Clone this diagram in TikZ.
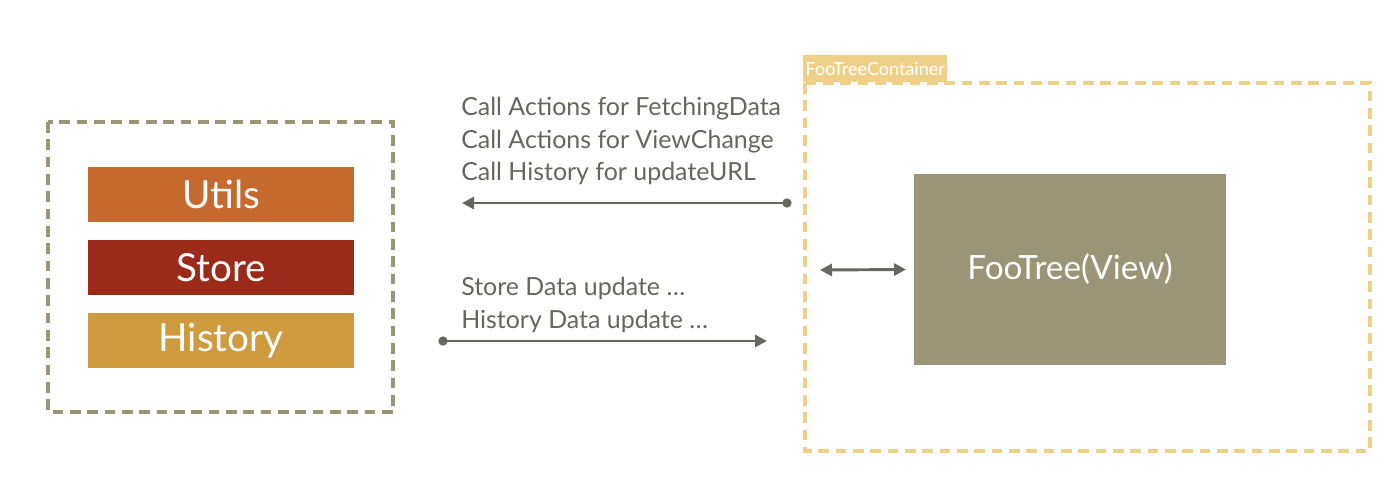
\documentclass[tikz,border=0pt]{standalone}
\usepackage{fontspec}
\setmainfont{Lato}
\usetikzlibrary{arrows.meta}
\definecolor{olivegray}{HTML}{9A9577}
\definecolor{utilsc}{HTML}{C5692E}
\definecolor{storec}{HTML}{9B2A1A}
\definecolor{historyc}{HTML}{D09A3F}
\definecolor{contc}{HTML}{EFD089}
\definecolor{txtc}{HTML}{66665C}
\definecolor{arrc}{HTML}{67665F}
\tikzset{
  bar/.style={draw=none, minimum width=266*0.75pt, minimum height=55*0.75pt, text=white, inner sep=0pt, font=\fontsize{29}{32}\selectfont},
  conn/.style={draw=arrc, line width=2.2pt, -{Triangle[length=9pt,width=9pt]}},
  dotstart/.style={circle, fill=arrc, inner sep=0pt, minimum size=7pt},
  lbl/.style={text=txtc, align=left, anchor=west, inner sep=0pt, font=\fontsize{18.7}{24.6}\selectfont}
}
\begin{document}
\begin{tikzpicture}[x=0.75pt, y=-0.75pt]
\useasboundingbox (0,0) rectangle (1400,483);
% left dashed container
\draw[olivegray, line width=3.2pt, dash pattern=on 8pt off 5pt] (48,122) rectangle (393,412);
\node[bar, fill=utilsc] (utils) at (221,194.5) {Utils};
\node[bar, fill=storec] (store) at (221,267.5) {Store};
\node[bar, fill=historyc] (history) at (221,340.5) {History};
% right container
\draw[contc, line width=3.2pt, dash pattern=on 8pt off 5pt] (805,83) rectangle (1370,451);
\node[fill=contc, text=white, minimum width=144*0.75pt, minimum height=27*0.75pt, inner sep=0pt, font=\fontsize{13.5}{14}\selectfont, anchor=north west] (ctab) at (803,55) {FooTreeContainer};
\node[fill=olivegray, text=white, minimum width=312*0.75pt, minimum height=191*0.75pt, inner sep=0pt, font=\fontsize{25}{28}\selectfont] (view) at (1070,269.5) {FooTree(View)};
% labels
\node[lbl] (toplbl) at (461,141) {Call Actions for FetchingData\\Call Actions for ViewChange\\Call History for updateURL};
\node[lbl] (botlbl) at (461,305) {Store Data update …\\History Data update …};
% arrows
\node[dotstart] (d1) at (787,203) {};
\coordinate (e1) at (462,203);
\draw[conn] (d1.center) -- (e1);
\node[dotstart] (d2) at (443,341) {};
\coordinate (e2) at (767,341);
\draw[conn] (d2.center) -- (e2);
\coordinate (a3) at (820,270);
\draw[draw=arrc, line width=2.2pt, {Triangle[length=9pt,width=9pt]}-{Triangle[length=9pt,width=9pt]}] (a3) -- (view.west -| 906,0);
\end{tikzpicture}
\end{document}
